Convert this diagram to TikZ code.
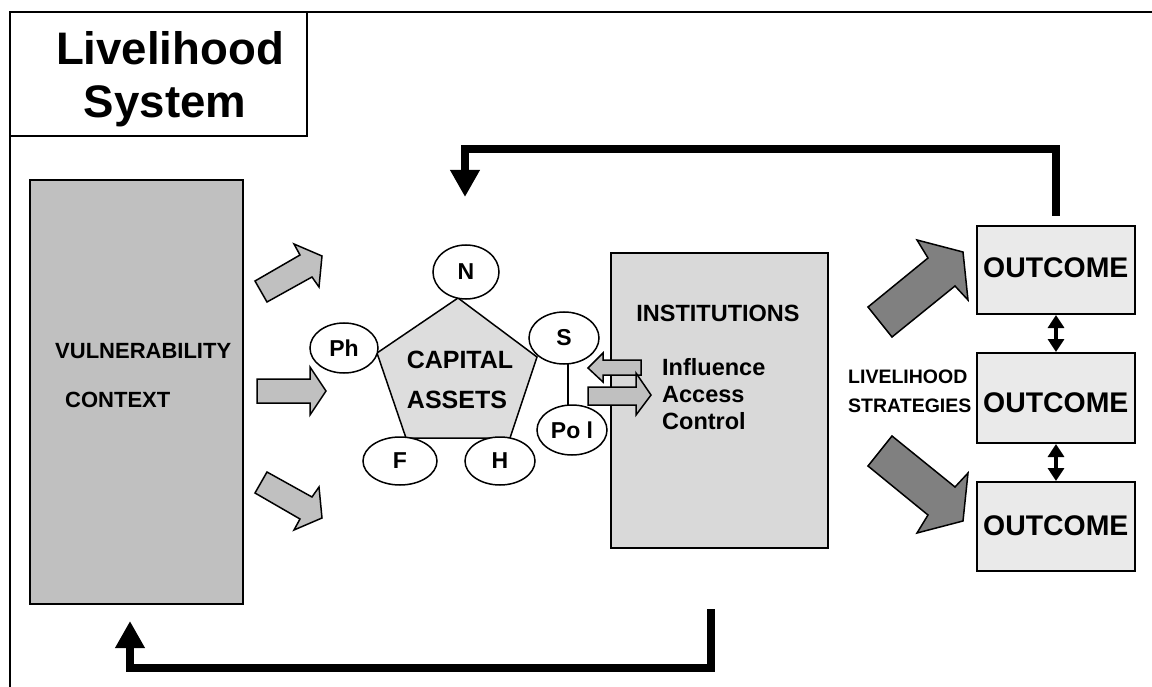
\documentclass[tikz,border=0pt]{standalone}
\usepackage{fontspec}
\setmainfont{Liberation Sans}
\usetikzlibrary{shapes.geometric,arrows.meta,calc}
\definecolor{vulgray}{HTML}{C0C0C0}
\definecolor{pentgray}{HTML}{DDDDDD}
\definecolor{instgray}{HTML}{D9D9D9}
\definecolor{outgray}{HTML}{EAEAEA}
\definecolor{biggray}{HTML}{808080}
\tikzset{
  fs/.style={font=\fontsize{#1}{#1}\selectfont\bfseries, inner sep=0pt},
  boxstyle/.style={draw=black, line width=2pt, rectangle, inner sep=0pt},
  asset/.style={draw=black, line width=1.5pt, fill=white, ellipse, inner sep=0pt,
    font=\fontsize{23}{23}\selectfont\bfseries},
  smallarrow/.style={draw=black, line width=1.5pt, fill=vulgray, line join=miter},
  bigarrow/.style={draw=black, line width=1.5pt, fill=biggray, line join=miter},
  fb/.style={line width=8pt, line join=miter, -{Triangle[length=27pt,width=28pt]}},
  dbl/.style={line width=3.5pt, {Triangle[length=13pt,width=16pt]}-{Triangle[length=13pt,width=16pt]}},
}
\begin{document}
\begin{tikzpicture}[x=1pt,y=-1pt]
\useasboundingbox (0,0) rectangle (1152,687);
\fill[white] (0,0) rectangle (1152,687);

% frame
\draw[line width=2pt] (10,687) -- (10,12) -- (1152,12);

% title box
\node[boxstyle, minimum width=297pt, minimum height=124pt] (title) at (158.5,74) {};
\node[fs=45.6, anchor=base] (t1) at (170,65) {Livelihood};
\node[fs=45.6, anchor=base] (t2) at (165,118) {System};

% vulnerability box
\node[boxstyle, fill=vulgray, minimum width=213pt, minimum height=424pt] (vul) at (136.5,392) {};
\node[fs=22, anchor=base west] (vul1) at (55,358) {VULNERABILITY};
\node[fs=22, anchor=base west] (vul2) at (65,407) {CONTEXT};

% small arrows from vulnerability
\draw[smallarrow] (255,281) -- (300,255) -- (294,244) -- (322,256) -- (319,287) -- (312,277) -- (267,302) -- cycle;
\draw[smallarrow] (257,379) -- (310,379) -- (310,367) -- (326,391) -- (310,415) -- (310,403) -- (257,403) -- cycle;
\draw[smallarrow] (255,493) -- (300,519) -- (294,530) -- (322,518) -- (319,487) -- (312,497) -- (267,472) -- cycle;

% pentagon
\draw[line width=1.5pt, fill=pentgray, line join=miter] (458,298) -- (537,357) -- (510,438) -- (406,438) -- (377,353) -- cycle;
\node[fs=25, anchor=base] (cap1) at (460,368) {CAPITAL};
\node[fs=25, anchor=base] (cap2) at (457,408) {ASSETS};

% S - Pol link
\coordinate (lk1) at (568,338);
\coordinate (lk2) at (568,430);
\draw[line width=1.5pt] (lk1) -- (lk2);

% asset ellipses
\node[asset, minimum width=66pt, minimum height=54pt] (N) at (466,272) {N};
\node[asset, minimum width=68pt, minimum height=50pt] (Ph) at (344,348) {Ph};
\node[asset, minimum width=70pt, minimum height=52pt] (S) at (564,338) {S};
\node[asset, minimum width=70pt, minimum height=50pt] (Pol) at (572,430) {Po l};
\node[asset, minimum width=74pt, minimum height=48pt] (F) at (400,461) {F};
\node[asset, minimum width=70pt, minimum height=48pt] (H) at (500,461) {H};

% institutions
\node[boxstyle, fill=instgray, minimum width=217pt, minimum height=295pt] (inst) at (719.5,400.5) {};
\node[fs=23.5, anchor=base] (inst1) at (718,322) {INSTITUTIONS};
\node[fs=23.5, anchor=base west] (inf) at (662,375) {Influence};
\node[fs=23.5, anchor=base west] (acc) at (662,402) {Access};
\node[fs=23.5, anchor=base west] (ctl) at (662,429) {Control};

% exchange arrows
\draw[smallarrow] (641,360) -- (603,360) -- (603,353) -- (588,368) -- (603,382) -- (603,375) -- (641,375) -- cycle;
\draw[smallarrow] (588,387) -- (636,387) -- (636,373) -- (651,395) -- (636,415) -- (636,405) -- (588,405) -- cycle;

% strategies
\node[fs=19.5, anchor=base west] (ls1) at (848,383) {LIVELIHOOD};
\node[fs=19.5, anchor=base west] (ls2) at (848,412) {STRATEGIES};

% big arrows
\draw[bigarrow] (868,307) -- (928,258) -- (917,240) -- (963,252) -- (968,300) -- (955,286) -- (892,337) -- cycle;
\draw[bigarrow] (868,466) -- (928,515) -- (917,533) -- (963,521) -- (968,473) -- (955,487) -- (892,436) -- cycle;

% outcomes
\node[boxstyle, fill=outgray, minimum width=158pt, minimum height=88pt] (o1) at (1056,270) {};
\node[boxstyle, fill=outgray, minimum width=158pt, minimum height=90pt] (o2) at (1056,398) {};
\node[boxstyle, fill=outgray, minimum width=158pt, minimum height=89pt] (o3) at (1056,526.5) {};
\node[fs=28.4, anchor=base west] (o1t) at (983,278) {OUTCOME};
\node[fs=28.4, anchor=base west] (o2t) at (983,412) {OUTCOME};
\node[fs=28.4, anchor=base west] (o3t) at (983,535) {OUTCOME};

\draw[dbl] (o1.south) -- (o2.north);
\draw[dbl] (o2.south) -- (o3.north);

% feedback loops
\coordinate (ta) at ([yshift=9pt]o1.north);
\coordinate (tb) at (1056,149);
\coordinate (tc) at (465,149);
\coordinate (td) at (465,197);
\draw[fb] (ta) -- (tb) -- (tc) -- (td);

\coordinate (ba) at (711,609);
\coordinate (bb) at (711,668);
\coordinate (bc) at (130,668);
\coordinate (bd) at (130,621);
\draw[fb] (ba) -- (bb) -- (bc) -- (bd);
\end{tikzpicture}
\end{document}
